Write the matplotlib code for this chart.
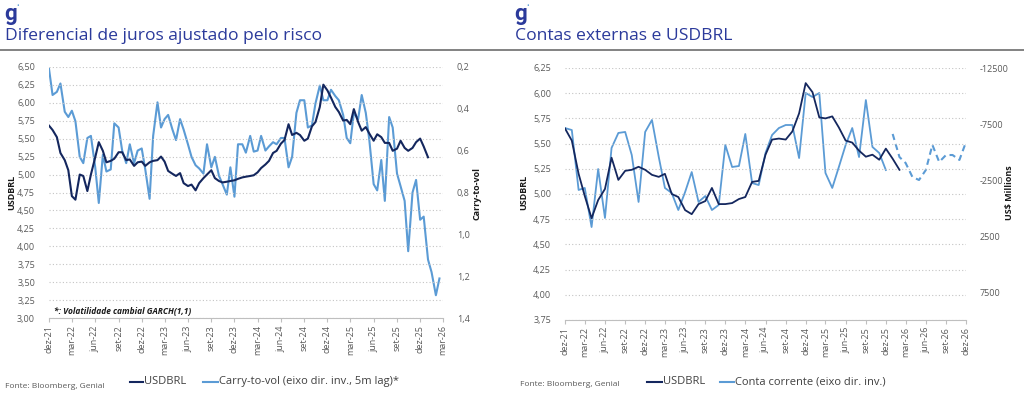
import matplotlib
matplotlib.use("Agg")
import matplotlib.pyplot as plt
from matplotlib.lines import Line2D
import numpy as np
import pandas as pd

# ---- left panel: semi-monthly readings from dez-21 ----
usd_daily = [5.68, 5.62, 5.52, 5.30, 5.20, 5.06, 4.70, 4.65, 5.00, 4.98,
             4.77, 5.00, 5.24, 5.45, 5.33, 5.17, 5.19, 5.22, 5.31, 5.31,
             5.20, 5.21, 5.12, 5.17, 5.18, 5.12, 5.17, 5.19, 5.20, 5.25,
             5.18, 5.05, 5.01, 4.98, 5.02, 4.88, 4.84, 4.86, 4.78, 4.88,
             4.95, 5.00, 5.06, 4.95, 4.91, 4.89, 4.90, 4.91, 4.92, 4.94,
             4.96, 4.97, 4.98, 4.99, 5.03, 5.09, 5.14, 5.19, 5.30, 5.33,
             5.43, 5.48, 5.70, 5.55, 5.58, 5.55, 5.47, 5.50, 5.67, 5.73,
             5.94, 6.25, 6.17, 6.07, 5.94, 5.87, 5.75, 5.76, 5.70, 5.91,
             5.73, 5.61, 5.66, 5.57, 5.47, 5.56, 5.52, 5.44, 5.44, 5.33,
             5.36, 5.47, 5.37, 5.33, 5.37, 5.45, 5.50, 5.39, 5.24]
carry = [0.21, 0.335, 0.32, 0.28, 0.415, 0.44, 0.41, 0.46, 0.63, 0.66,
         0.54, 0.53, 0.68, 0.85, 0.62, 0.70, 0.69, 0.47, 0.49, 0.60,
         0.66, 0.57, 0.66, 0.60, 0.59, 0.69, 0.83, 0.53, 0.37, 0.49,
         0.45, 0.43, 0.50, 0.55, 0.45, 0.50, 0.57, 0.63, 0.67, 0.685,
         0.71, 0.57, 0.68, 0.63, 0.72, 0.76, 0.81, 0.68, 0.82, 0.57,
         0.57, 0.61, 0.53, 0.605, 0.60, 0.53, 0.60, 0.58, 0.56, 0.57,
         0.54, 0.54, 0.68, 0.63, 0.42, 0.36, 0.36, 0.49, 0.48, 0.375,
         0.29, 0.36, 0.36, 0.31, 0.34, 0.36, 0.43, 0.54, 0.565, 0.42,
         0.45, 0.335, 0.42, 0.55, 0.76, 0.79, 0.645, 0.84, 0.44, 0.49,
         0.71, 0.77, 0.84, 1.08, 0.80, 0.74, 0.93, 0.915, 1.12, 1.18,
         1.29, 1.21]
left_xlabels = ['dez-21', 'mar-22', 'jun-22', 'set-22', 'dez-22', 'mar-23',
                'jun-23', 'set-23', 'dez-23', 'mar-24', 'jun-24', 'set-24',
                'dez-24', 'mar-25', 'jun-25', 'set-25', 'dez-25', 'mar-26']

# ---- right panel: monthly from dez-21 ----
usd_month = [5.65, 5.53, 5.20, 4.98, 4.76, 4.94, 5.05, 5.36, 5.14, 5.23,
             5.24, 5.27, 5.24, 5.19, 5.17, 5.20, 5.00, 4.97, 4.84, 4.80,
             4.90, 4.93, 5.06, 4.90, 4.90, 4.91, 4.95, 4.97, 5.12, 5.13,
             5.39, 5.54, 5.55, 5.54, 5.62, 5.80, 6.10, 6.01, 5.76, 5.75,
             5.77, 5.66, 5.53, 5.51, 5.43, 5.37, 5.39, 5.34, 5.45, 5.35,
             5.24]
conta = [-7140, -6960, -1610, -1790, 1700, -3480, 890, -5360, -6700, -6790,
         -4730, -540, -6790, -7860, -4550, -1790, -1340, 180, -1430, -3210,
         -540, -1070, 180, -270, -5630, -3660, -3750, -6610, -2230, -2050,
         -4910, -6520, -7140, -7410, -7410, -4460, -10270, -9910, -10270, -3130,
         -1790, -3660, -5630, -7140, -4550, -9640, -5450, -4910, -3390]
conta_proj = [-6610, -4550, -4020, -2770, -2500, -3390, -5630, -4110, -4730,
              -4730, -4290, -5890]
right_xlabels = ['dez-21', 'mar-22', 'jun-22', 'set-22', 'dez-22', 'mar-23',
                 'jun-23', 'set-23', 'dez-23', 'mar-24', 'jun-24', 'set-24',
                 'dez-24', 'mar-25', 'jun-25', 'set-25', 'dez-25', 'mar-26',
                 'jun-26', 'set-26', 'dez-26']

DARK = '#14275e'
LIGHT = '#5b9bd5'
GRAY = '#595959'
GRID = '#c4c4c4'
TITLE = '#2b3a9b'
FONT = 'Open Sans'

plt.rcParams['font.family'] = [FONT, 'DejaVu Sans']

W, H = 1024, 398
fig = plt.figure(figsize=(W / 100, H / 100), dpi=100)


def fx(px):
  return px / W


def fy(py):
  return 1 - py / H


def comma(v, d):
  return ('%.*f' % (d, v)).replace('.', ',')


def style_axes(ax, axr):
  for s in ['top', 'left', 'right']:
    ax.spines[s].set_visible(False)
    axr.spines[s].set_visible(False)
  axr.spines['bottom'].set_visible(False)
  ax.spines['bottom'].set_color('#bfbfbf')
  ax.tick_params(axis='y', length=0, pad=10, labelsize=6.5, labelcolor=GRAY)
  axr.tick_params(axis='y', length=0, pad=10, labelsize=6.5, labelcolor=GRAY)
  ax.tick_params(axis='x', length=3, color='#bfbfbf', labelsize=6.5,
                 labelcolor=GRAY, labelrotation=90, pad=2)
  ax.yaxis.grid(True, linestyle=(0, (1, 2)), color=GRID, linewidth=0.8)
  ax.set_axisbelow(True)
  ax.set_zorder(axr.get_zorder() + 1)
  ax.patch.set_visible(False)


# ================= left chart =================
ax1 = fig.add_axes([fx(49), fy(318.3), fx(443) - fx(49), fy(66.7) - fy(318.3)])
ax1r = ax1.twinx()

d_usd = pd.date_range('2021-12-01', periods=len(usd_daily), freq='SMS')
d_car = pd.date_range('2021-12-01', periods=len(carry), freq='SMS')
ax1r.plot(d_car, carry, color=LIGHT, lw=1.5)
ax1.plot(d_usd, usd_daily, color=DARK, lw=1.5)

ax1.set_xlim(pd.Timestamp('2021-12-01'), pd.Timestamp('2026-03-01'))
ax1.set_ylim(3.0, 6.5)
yt = np.arange(3.0, 6.51, 0.25)
ax1.set_yticks(yt)
ax1.set_yticklabels([comma(v, 2) for v in yt])
ax1r.set_ylim(1.4, 0.2)
yr = np.arange(0.2, 1.41, 0.2)
ax1r.set_yticks(yr)
ax1r.set_yticklabels([comma(v, 1) for v in yr])
xt = pd.date_range('2021-12-01', periods=len(left_xlabels), freq='3MS')
ax1.set_xticks(xt)
ax1.set_xticklabels(left_xlabels)
style_axes(ax1, ax1r)

fig.text(fx(12), fy(192), 'USDBRL', rotation=90, fontsize=6.5, weight='bold',
         ha='center', va='center', color='#1a1a1a')
fig.text(fx(477), fy(193), 'Carry-to-vol', rotation=90, fontsize=6.5,
         weight='bold', ha='center', va='center', color='#1a1a1a')
fig.text(fx(54), fy(311), '*: Volatilidade cambial GARCH(1,1)', fontsize=6,
         weight='bold', style='italic', ha='left', va='center', color='#1a1a1a')

# ================= right chart =================
ax2 = fig.add_axes([fx(565), fy(320), fx(966) - fx(565), fy(68) - fy(320)])
ax2r = ax2.twinx()

d_m = pd.date_range('2021-12-01', periods=len(usd_month), freq='MS')
d_c = pd.date_range('2021-12-01', periods=len(conta), freq='MS')
d_p = pd.date_range(d_c[-1] + pd.DateOffset(months=1), periods=len(conta_proj),
                    freq='MS')
ax2r.plot(d_c, conta, color=LIGHT, lw=1.3)
ax2r.plot(d_p, conta_proj, color=LIGHT, lw=1.5, linestyle=(0, (3, 2)))
ax2.plot(d_m, usd_month, color=DARK, lw=1.3)

ax2.set_xlim(pd.Timestamp('2021-12-01'), pd.Timestamp('2026-12-01'))
ax2.set_ylim(3.75, 6.25)
yt2 = np.arange(3.75, 6.26, 0.25)
ax2.set_yticks(yt2)
ax2.set_yticklabels([comma(v, 2) for v in yt2])
ax2r.set_ylim(10000, -12500)
yr2 = np.arange(-12500, 7501, 5000)
ax2r.set_yticks(yr2)
ax2r.set_yticklabels(['%d' % v for v in yr2])
xt2 = pd.date_range('2021-12-01', periods=len(right_xlabels), freq='3MS')
ax2.set_xticks(xt2)
ax2.set_xticklabels(right_xlabels)
style_axes(ax2, ax2r)

fig.text(fx(524), fy(192), 'USDBRL', rotation=90, fontsize=6.5, weight='bold',
         ha='center', va='center', color='#1a1a1a')
fig.text(fx(1010), fy(193), 'US$ Millions', rotation=90, fontsize=6.5,
         weight='bold', ha='center', va='center', color='#1a1a1a')

# ================= titles, logos, rules =================
for x0, title in [(5, 'Diferencial de juros ajustado pelo risco'),
                  (515, 'Contas externas e USDBRL')]:
  fig.text(fx(x0 - 1), fy(20), 'g', fontsize=16, weight='bold', color=TITLE,
           ha='left', va='baseline', family='Roboto')
  fig.text(fx(x0 + 13), fy(6), '\u2022', fontsize=5, color=LIGHT,
           ha='center', va='center')
  fig.text(fx(x0), fy(40), title, fontsize=12.6, color=TITLE, ha='left',
           va='baseline')
fig.add_artist(Line2D([0, 1], [fy(49.5), fy(49.5)], color='#6d6d6d', lw=1.2))

# ================= legends =================
def legend_item(x0, x1, c, label):
  fig.add_artist(Line2D([fx(x0), fx(x1)], [fy(381.5), fy(381.5)], color=c,
                        lw=1.5))
  fig.text(fx(x1 + 1), fy(381.5), label, fontsize=8, color='#404040',
           ha='left', va='center')

legend_item(130, 143, DARK, 'USDBRL')
legend_item(203, 218, LIGHT, 'Carry-to-vol (eixo dir. inv., 5m lag)*')
legend_item(647, 662, DARK, 'USDBRL')
legend_item(720, 734, LIGHT, 'Conta corrente (eixo dir. inv.)')

fig.text(fx(5), fy(386), 'Fonte: Bloomberg, Genial', fontsize=6, color=GRAY,
         ha='left', va='center')
fig.text(fx(520), fy(384), 'Fonte: Bloomberg, Genial', fontsize=6, color=GRAY,
         ha='left', va='center')

fig.savefig('out.png', dpi=100)
